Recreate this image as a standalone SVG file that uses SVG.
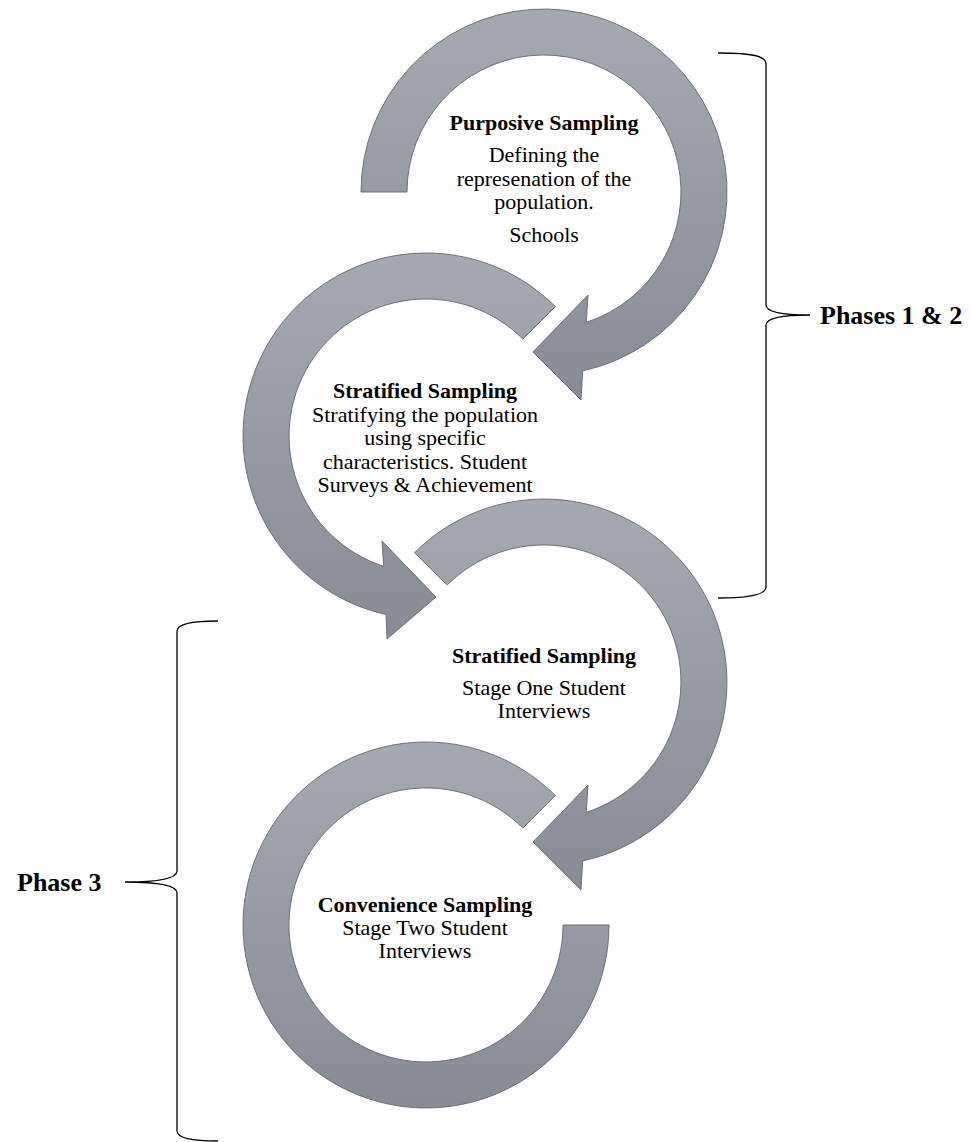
<svg xmlns="http://www.w3.org/2000/svg" width="971" height="1142" viewBox="0 0 971 1142">
<defs>
<linearGradient id="g" x1="0" y1="0" x2="0" y2="1">
<stop offset="0" stop-color="#a5a9b2"/>
<stop offset="1" stop-color="#868b96"/>
</linearGradient>
</defs>
<style>
.ring{fill:url(#g);stroke:#62666e;stroke-width:0.9;stroke-linejoin:miter}
.t{font-family:"Liberation Serif","Times New Roman",serif;font-size:22px;fill:#000;text-anchor:middle}
.b{font-weight:bold}
.brace{fill:none;stroke:#000;stroke-width:1.3}
.lbl{font-family:"Liberation Serif","Times New Roman",serif;font-size:26px;font-weight:bold;fill:#000}
</style>
<rect width="971" height="1142" fill="#fff"/>
<g id="node-purposive">
<path class="ring" d="M 361 192 A 183 183 0 1 1 582.7 370.9 L 581 400 L 533 352 L 588 295 L 586.3 322.3 A 137 137 0 1 0 407 192 Z"/>
<text class="t b" x="544" y="130">Purposive Sampling</text>
<text class="t" x="544" y="162">Defining the</text>
<text class="t" x="544" y="186">represenation of the</text>
<text class="t" x="544" y="209">population.</text>
<text class="t" x="544" y="242">Schools</text>
</g>
<g id="node-stratified-1">
<path class="ring" d="M 555.4 306.6 A 183 183 0 1 0 386.1 614.6 L 387 639 L 436 597 L 382 541 L 383.7 566.3 A 137 137 0 1 1 522.9 339.1 Z"/>
<text class="t b" x="425" y="398">Stratified Sampling</text>
<text class="t" x="425" y="422">Stratifying the population</text>
<text class="t" x="425" y="445">using specific</text>
<text class="t" x="425" y="469">characteristics. Student</text>
<text class="t" x="425" y="492">Surveys &amp; Achievement</text>
</g>
<g id="node-stratified-2">
<path class="ring" d="M 414.6 552.6 A 183 183 0 1 1 582.7 860.9 L 581 890 L 533 842 L 588 785 L 586.3 812.3 A 137 137 0 1 0 447.1 585.1 Z"/>
<text class="t b" x="544" y="663">Stratified Sampling</text>
<text class="t" x="544" y="695">Stage One Student</text>
<text class="t" x="544" y="718">Interviews</text>
</g>
<g id="node-convenience">
<path class="ring" d="M 555.4 795.6 A 183 183 0 1 0 609 925 L 563 925 A 137 137 0 1 1 522.9 828.1 Z"/>
<text class="t b" x="425" y="912">Convenience Sampling</text>
<text class="t" x="425" y="935">Stage Two Student</text>
<text class="t" x="425" y="958">Interviews</text>
</g>
<g id="connectors">
<path class="brace" d="M 718 53 C 752 53, 766 56, 766 64 L 766 305 C 766 312, 780 315, 810 315 C 780 315, 766 318, 766 325 L 766 587 C 766 594, 752 598, 718 598"/>
<path class="brace" d="M 218 621 C 190 621, 177 624, 177 631 L 177 871 C 177 878, 160 882, 125 882 C 160 882, 177 886, 177 893 L 177 1131 C 177 1138, 190 1141, 218 1141"/>
</g>
<g id="label-phases12">
<text class="lbl" x="820" y="324">Phases 1 &amp; 2</text>
</g>
<g id="label-phase3">
<text class="lbl" x="17" y="891">Phase 3</text>
</g>
</svg>
